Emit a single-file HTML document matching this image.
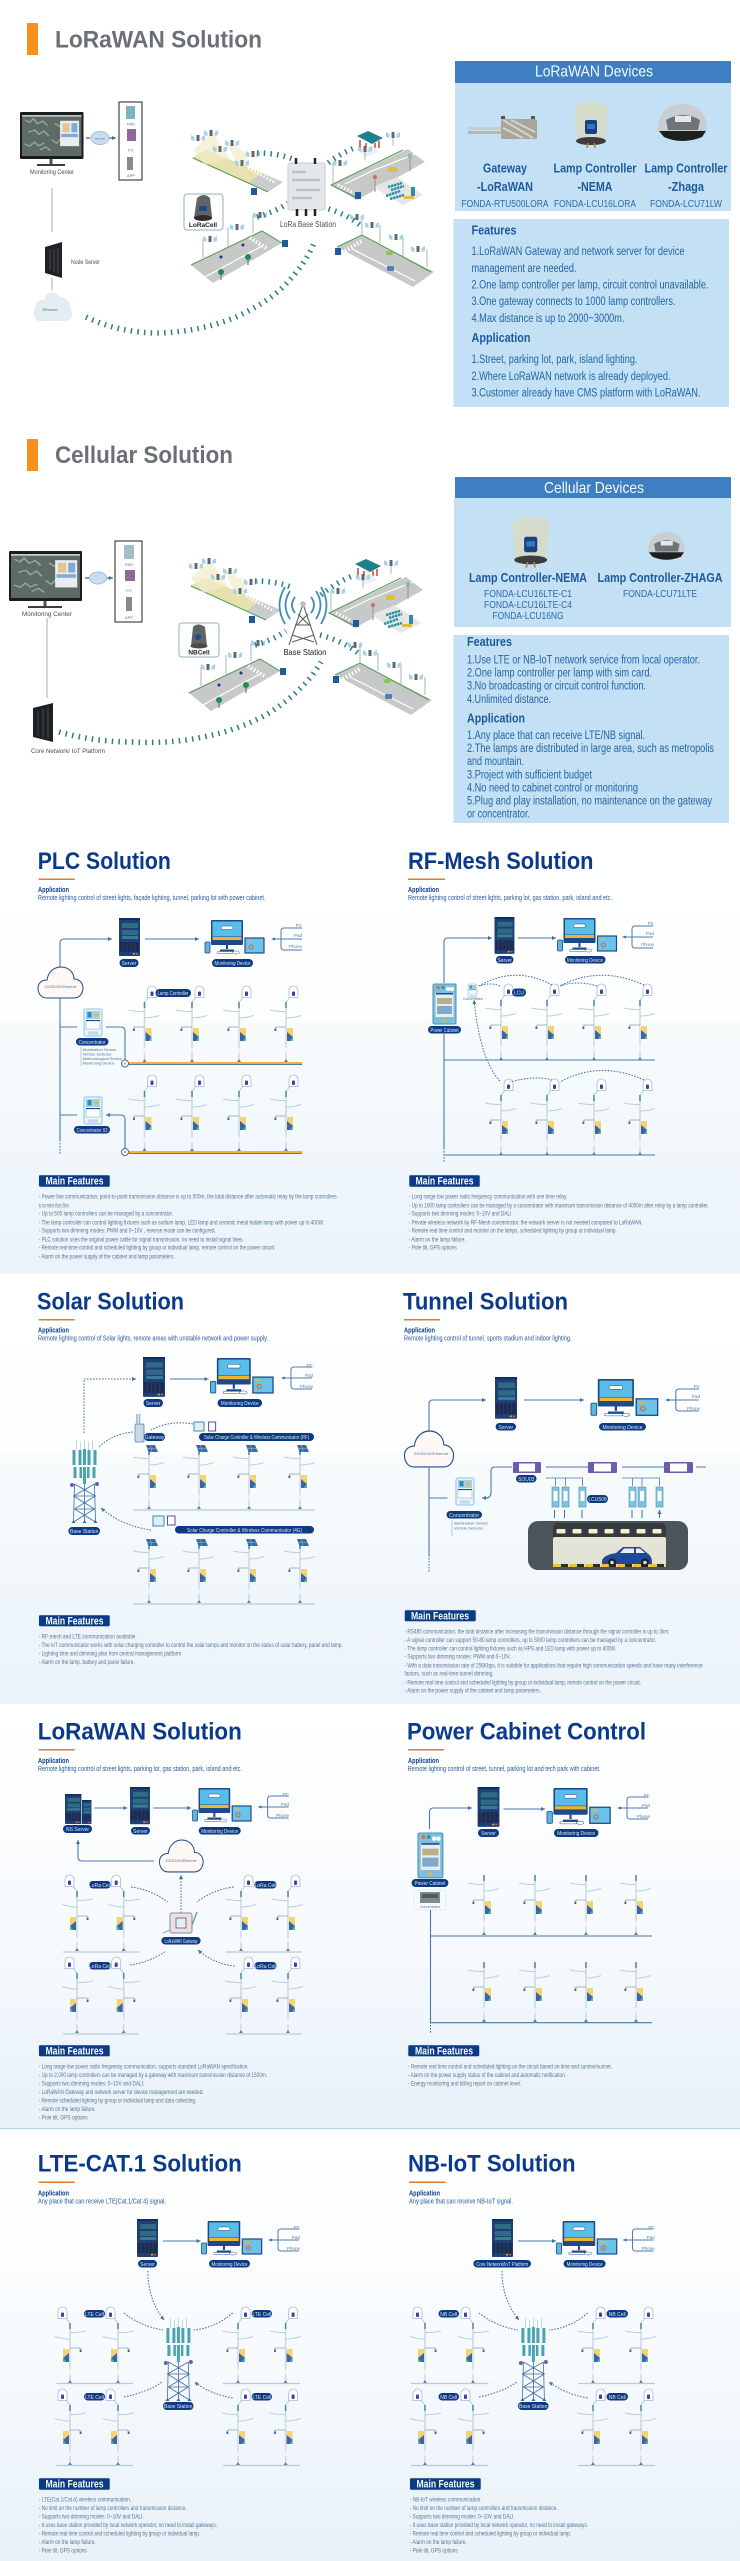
<!DOCTYPE html>
<html lang="en">
<head>
<meta charset="utf-8">
<title>Street lighting solutions</title>
<style>
html,body{margin:0;padding:0;background:#fff}
svg{display:block}
text{font-family:"Liberation Sans",sans-serif}
.h1{font-size:24px;font-weight:700;fill:#6b7076}
.hd{font-size:16px;fill:#f2f8fd}
.dv{font-size:13px;font-weight:700;fill:#1d5a9d}
.md{font-size:10px;fill:#2d6ba8}
.fh{font-size:13px;font-weight:700;fill:#1d5a9d}
.fl{font-size:11.5px;fill:#2465a5}
.sm{font-size:6.5px;fill:#4a4f52}
.t{font-size:24px;font-weight:700;fill:#0a3a8b}
.ap{font-size:7.5px;font-weight:700;fill:#0f3f86}
.su{font-size:7.5px;fill:#2b5a9c}
.mf{font-size:11px;font-weight:700;fill:#f4f9ff}
.l{font-size:6.2px;fill:#5a7898}
.p{font-size:5px;fill:#dce9f6;text-anchor:middle}
.b{font-size:4.5px;fill:#5a7ea6;text-anchor:end}
.s{font-size:4px;fill:#52729a}
.pill{fill:#0d3a82}
.wl{fill:none;stroke:#4a78ad;stroke-width:1.1;stroke-linejoin:round}
.dash{fill:none;stroke:#3f6fa6;stroke-width:1;stroke-dasharray:1.6 1.4}
.tick{fill:none;stroke:#2e7d84;stroke-width:5.500;stroke-dasharray:1.5 5.2}
</style>
</head>
<body>
<svg xmlns="http://www.w3.org/2000/svg" width="740" height="2561" viewBox="0 0 740 2561">
<defs>
<linearGradient id="g1" x1="0" y1="0" x2="0" y2="1">
<stop offset="0" stop-color="#ffffff"/><stop offset=".41" stop-color="#fdfefe"/><stop offset=".43" stop-color="#f7fbfb"/><stop offset=".6" stop-color="#f4f9fc"/><stop offset=".78" stop-color="#eff6fb"/><stop offset="1" stop-color="#ebf2f9"/>
</linearGradient>
<linearGradient id="g2" x1="0" y1="0" x2="0" y2="1">
<stop offset="0" stop-color="#ffffff"/><stop offset=".3" stop-color="#fbfdfe"/><stop offset=".6" stop-color="#f5f9fd"/><stop offset="1" stop-color="#e7f1f8"/>
</linearGradient>
<marker id="a" markerUnits="userSpaceOnUse" markerWidth="6" markerHeight="6" refX="4" refY="2.5" orient="auto"><path d="M0 .5L4 2.5L0 4.5z" fill="#3f6fa6"/></marker>

<g id="pole">
<path d="M0-60V0" stroke="#ccd9e3" stroke-width="1.500"/>
<path d="M0-60V-54" stroke="#4a8aa4" stroke-width="1.500"/>
<path d="M-16-52Q-8-50 0-50.500M0-44Q8-44 15-46.500" fill="none" stroke="#bfcfdb" stroke-width="1.100"/>
<path d="M-10.500-35H0" stroke="#8aa8c2" stroke-width=".8"/>
<rect x="-11.500" y="-34.500" width="1.800" height="3.500" fill="#3a5f96"/><rect x="-11.500" y="-34.500" width="1.800" height="1.300" fill="#e8b45a"/>
<rect x="1" y="-34" width="6" height="13" fill="#f5d36e"/><path d="M1-21V-30L7-25V-21z" fill="#3a66a8"/><path d="M4-21L7-26V-21z" fill="#5fb0a0"/>
<rect x="-1" y="-14" width="2" height="5" fill="#eef3f7"/>
<path d="M-2 0L0-3L2 0z" fill="#4d8aa0"/>
</g>
<g id="dome">
<path d="M3-64.500V-71.500A4.500 4.500 0 0 1 12-71.500V-64.500z" fill="#fff" stroke="#a9bac8" stroke-width=".8"/>
<rect x="6" y="-70.500" width="3" height="4.500" rx="1" fill="#3a44a0"/>
<path d="M3.500-64L0-60" stroke="#9db4c6" stroke-width=".6"/>
</g>
<g id="lamp"><use href="#pole"/><use href="#dome"/></g>
<g id="spole"><use href="#pole"/><path d="M-3-64H6L9-57H-.5z" fill="#3a6ca4"/><path d="M1.500-64L3-57M-1.500-60.500H8" stroke="#b4d0e6" stroke-width=".4"/></g>

<g id="srv">
<rect width="21" height="38" rx="1" fill="#1e3f78"/>
<rect x="0" y="0" width="21" height="2" fill="#0d2e66"/>
<rect x="3" y="5" width="16" height="5" fill="#2f6c84"/><rect x="3" y="12" width="16" height="5" fill="#2f6c84"/><rect x="3" y="18" width="16" height="3" fill="#3b7b92"/>
<rect x="1" y="24" width="19" height="10" fill="#1a2c52"/>
<rect x="14" y="35" width="2" height="1.500" fill="#e8a83c"/><rect x="17" y="35" width="2" height="1.500" fill="#d9534f"/>
<path d="M4 24V34M8 24V34M12 24V34M16 24V34" stroke="#3a4c74" stroke-width=".5"/>
</g>
<g id="mon">
<rect x="6" y="0" width="32" height="25" rx="1" fill="#1e4a8c"/>
<rect x="7.500" y="1.500" width="29" height="15" fill="#58bde8"/>
<rect x="7.500" y="17" width="29" height="3" fill="#f0b52f"/>
<rect x="16" y="6" width="12" height="3.500" rx="1.700" fill="#fff" stroke="#1e4a8c" stroke-width=".5"/>
<path d="M22 25V29M15 30.500H29" stroke="#1e4a8c" stroke-width="2"/>
<rect x="12" y="31.500" width="16" height="2" rx="1" fill="#fff" stroke="#2a5b99" stroke-width=".5"/>
<rect x="40" y="18" width="19" height="15" fill="#6cc3ea" stroke="#1e4a8c" stroke-width="1.200"/>
<rect x="42" y="20.500" width="5" height="1.500" fill="#f0b52f"/><circle cx="46" cy="27" r="2" fill="none" stroke="#d9622f"/>
<rect x="0" y="22" width="5" height="11" rx="1" fill="#5eb7e0" stroke="#1e4a8c" stroke-width=".8"/>
<ellipse cx="31" cy="32.500" rx="3.500" ry="1.500" fill="#fff" stroke="#2a5b99" stroke-width=".5"/>
</g>
<g id="br">
<path d="M0 0H8M29-11H11Q8-11 8-8V8Q8 11 11 11H29M8 0H29" fill="none" stroke="#4d7bae" stroke-width="1"/>
<path d="M-2 0L2-1.500V1.500z" fill="#3f6fa6"/>
</g>
<g id="con">
<rect width="18" height="27" rx="2" fill="#e8f3fa" stroke="#8fc3e2"/>
<rect x="2" y="2" width="14" height="8" fill="#9fd3ef"/>
<rect x="3.500" y="3" width="4" height="5.500" fill="#2f8cb4"/><circle cx="12" cy="6" r="2" fill="#f0b52f"/>
<rect x="2" y="12" width="14" height="8" fill="#fff" stroke="#7ba7c7" stroke-width=".5"/>
<rect x="2" y="11" width="14" height="1" fill="#1d4c94"/>
<rect x="4" y="22.500" width="10" height="3" fill="#bed9ea"/>
</g>
<g id="cab">
<rect width="23" height="40" rx="1.500" fill="#7fbfdc" stroke="#4b91b3"/>
<circle cx="5" cy="3.500" r="1.800" fill="#e5673c"/><circle cx="10" cy="3.500" r="1.800" fill="#2b9f94"/><circle cx="15" cy="5" r="2" fill="#fff"/><circle cx="19" cy="5" r="2" fill="#fff"/>
<rect x="2.500" y="9" width="18" height="24" fill="#e5eef4"/><rect x="3" y="9" width="17" height="1.500" fill="#1d4c94"/>
<rect x="4" y="14" width="15" height="6" fill="#b7b183"/><rect x="4" y="22" width="15" height="8" fill="#7fa9c9"/>
<path d="M11.500 34L14 38H9z" fill="#f0b52f"/>
</g>
<g id="tower">
<g fill="#4aa3b0">
<rect x="-12" y="10" width="3" height="15"/><rect x="-6" y="10" width="3" height="15"/><rect x="-1.500" y="9" width="3" height="16"/><rect x="3" y="10" width="3" height="15"/><rect x="9" y="10" width="3" height="15"/>
<rect x="-11" y="27" width="3" height="11"/><rect x="-5" y="27" width="2.500" height="11"/><rect x="-1.500" y="27" width="3" height="17"/><rect x="2.500" y="27" width="2.500" height="11"/><rect x="8" y="27" width="3" height="11"/>
</g>
<path d="M-8 0V10M-4 2V10M0 0V10M4 2V10M8 0V10" stroke="#7fb6c4" stroke-width=".5"/>
<circle cx="-12.500" cy="45" r="2" fill="#6d5bb0"/><circle cx="12.500" cy="44" r="2" fill="#6d5bb0"/>
<path d="M-10 44L-11 82M10 44L11 82M-10 44L11 56L-10 69L11 82M10 44L-11 56L10 69L-11 82M-10.500 56H10.500M-10.500 69H10.500M0 44V82" fill="none" stroke="#3f6fa6" stroke-width=".8"/>
<path d="M-13 83H-9L-11 80zM-2 83H2L0 80zM9 83H13L11 80z" fill="#35738a"/>
</g>
<g id="cloud">
<path d="M9 31C2 31 0 25 0 21C0 16 4 13 9 13C10 5 16 0 23 0C30 0 36 5 36 12C42 12 45 17 45 21C45 27 41 31 36 31z" fill="#fff8f5" stroke="#1e4a8c" stroke-width="1"/>
</g>
<g id="sl">
<path d="M-7-3L-3.500-1V3L-7 2zM7-3L3.500-1V3L7 2z" fill="#a5d3ec"/>
<rect x="-1.500" y="-3" width="3" height="6" fill="#63676b"/>
</g>
<g id="scene">
<polygon points="192,158 207,150 283,182 268,192" fill="#cbcdcc"/>
<polygon points="192,158 207,150 262,173 248,183" fill="#e6e1ae"/>
<path d="M193 158L268 192" stroke="#4f9a4f"/><path d="M248 168L276 183" stroke="#fff" stroke-width="3" stroke-dasharray="1.500 2"/>
<path d="M193 150L212 133L230 158L205 165zM225 140L250 155L240 170z" fill="#f0ecc8" opacity=".7"/>
<polygon points="331,185 408,149 425,162 357,200" fill="#c7c9c9"/>
<path d="M357 198L331 185L403 150" fill="none" stroke="#4f9a4f"/><path d="M345 184L372 171L415 154" fill="none" stroke="#fff" stroke-width="1.200"/>
<path d="M338 185L352 192" stroke="#fff" stroke-width="3.500" stroke-dasharray="1.500 2"/>
<polygon points="373,187 397,177 423,195 403,205" fill="#e6e7e5"/>
<path d="M388 187L402 183M391 190L404 186" stroke="#2b8fa8" stroke-width="2.500" stroke-dasharray="2.500 .6"/><path d="M386 196L400 191M390 199L404 195" stroke="#2b8fa8" stroke-width="2.500" stroke-dasharray="2.500 .6"/>
<rect x="411" y="187" width="4" height="9" fill="#2f8f9c"/><rect x="404" y="196" width="10" height="3" fill="#e0b94a"/>
<polygon points="357,136 368,131 383,138 372,144" fill="#1f7f8c"/><path d="M360 140V150M366 143V152M375 143V150M379 141V148" stroke="#c4442f" stroke-width="1.500"/>
<polygon points="358,150 373,146 380,152 366,157" fill="#eef0f0"/>
<rect x="388" y="167" width="9" height="5" rx="1" fill="#d8c23f"/>
<circle cx="375" cy="177" r="2" fill="#cf6e5a"/><path d="M375 179V192" stroke="#8a9398"/>
<circle cx="410" cy="156" r="2.500" fill="#8fb8c4"/><path d="M410 158V171" stroke="#8a9398"/>
<polygon points="191,265 262,231 282,243 213,283" fill="#c7c9c9"/>
<path d="M191 265L262 231L282 243" fill="none" stroke="#4f9a4f"/><path d="M205 277L262 246" stroke="#fff" stroke-width="1.200"/>
<path d="M250 238L268 249" stroke="#fff" stroke-width="4" stroke-dasharray="1.500 2"/>
<polygon points="337,247 362,235 434,272 413,287" fill="#c7c9c9"/>
<path d="M337 247L362 235L431 272" fill="none" stroke="#4f9a4f"/><path d="M352 249L415 281" stroke="#fff" stroke-width="1.200"/>
<path d="M345 251L362 241" stroke="#fff" stroke-width="4" stroke-dasharray="1.500 2"/>
<circle cx="221" cy="272" r="3" fill="#1f8a5a"/><path d="M221 275V280" stroke="#6a5b3e"/>
<circle cx="248" cy="257" r="3" fill="#1f8a5a"/><path d="M248 260V265" stroke="#6a5b3e"/>
<circle cx="243" cy="245" r="1.500" fill="#26318a"/><circle cx="221" cy="257" r="1.500" fill="#26318a"/>
<rect x="386" y="251" width="7" height="4" rx="1" fill="#8fc25b"/><rect x="387" y="266" width="7" height="5" rx="1" fill="#4f7fbf"/>
<rect x="251" y="188" width="6" height="7" fill="#1f5a9d"/><rect x="355" y="192" width="6" height="7" fill="#1f5a9d"/><rect x="282" y="240" width="6" height="7" fill="#1f5a9d"/><rect x="335" y="248" width="6" height="7" fill="#1f5a9d"/>
<path d="M333 183V163M393 146V135M365 160V149M380 243V225M403 257V237M427 267V249M362 235V217M203 258V239M228 247V227M253 233V215" fill="none" stroke="#9aa2a6" stroke-width=".8"/>
<use href="#sl" x="198" y="138"/><use href="#sl" x="211" y="133"/><use href="#sl" x="220" y="149"/><use href="#sl" x="232" y="143"/><use href="#sl" x="253" y="154"/><use href="#sl" x="242" y="163"/>
<use href="#sl" x="340" y="163"/><use href="#sl" x="393" y="135"/><use href="#sl" x="365" y="149"/>
<use href="#sl" x="372" y="225"/><use href="#sl" x="396" y="237"/><use href="#sl" x="418" y="249"/><use href="#sl" x="357" y="217"/>
<use href="#sl" x="210" y="239"/><use href="#sl" x="237" y="227"/><use href="#sl" x="260" y="215"/>
<path d="M257 153Q277 153 293 159M323 167Q340 153 357 147M257 217Q275 212 288 203M322 207Q345 213 360 225" class="tick"/>
</g>
<g id="nema">
<path d="M0 8C0 2 8 0 17 0C26 0 34 2 34 8L31 38H3z" fill="#d6dccb"/><ellipse cx="17" cy="39" rx="15" ry="4" fill="#3d3d3d"/>
<rect x="11" y="18" width="12" height="14" rx="2" fill="#1d3f7a"/><rect x="13" y="22" width="8" height="5" fill="#2f78c4"/>
<path d="M14 41L13 46M20 41L21 46" stroke="#b58a2c" stroke-width="1.500"/>
</g>
<g id="zhaga">
<path d="M0 27C0 8 10 0 24 0C39 0 49 8 49 27z" fill="#c8ced2"/>
<path d="M8 16Q25 6 42 16L40 26H10z" fill="#6e7478"/><rect x="17" y="12" width="16" height="6" fill="#e6e8ea"/>
<path d="M1 27H48L44 33Q24 41 6 33z" fill="#1e1e1e"/>
</g>
<g id="mtex">
<rect width="100" height="100" fill="#5d6a66"/>
<path d="M5 12l8 6 6-9 7 12 9-6 8 11M10 42l12-5 6 10 9-8 8 12M4 70l9 6 8-10 7 9 10-7M50 60l8 9 7-10 9 8M30 85l10-7 8 9M55 20l8 8 9-9" stroke="#8fa5a0" stroke-width="3" fill="none"/>
<rect y="0" width="100" height="4" fill="#c6cacd"/>
<rect x="64" y="14" width="32" height="62" fill="#e9edf1"/><rect x="68" y="20" width="12" height="22" fill="#e4c58c"/><rect x="83" y="20" width="10" height="22" fill="#7fa9d9"/><rect x="66" y="46" width="28" height="8" fill="#7fa9d9"/>
</g>
</defs>

<rect width="740" height="2561" fill="#fff"/>
<!-- Section 1 -->
<rect x="27" y="23" width="11" height="32" fill="#f5921e"/>
<text class="h1" x="55" y="47.500" textLength="207" lengthAdjust="spacingAndGlyphs">LoRaWAN Solution</text>
<rect x="455" y="83" width="276" height="128" fill="#c3e0f5"/>
<rect x="455" y="61" width="276" height="22" fill="#3f7fc1"/>
<text class="hd" x="594" y="76.700" text-anchor="middle" textLength="118" lengthAdjust="spacingAndGlyphs">LoRaWAN Devices</text>
<g transform="translate(468,114)">
<rect x="0" y="13" width="34" height="3" fill="#c9cdc9"/><rect x="0" y="17" width="34" height="3" fill="#b4b8b2"/>
<rect x="33" y="5" width="36" height="20" rx="2" fill="#a8a69a"/><path d="M35 6L65 24M43 6L67 18M35 14L55 24" stroke="#d5d4cb" stroke-width="2"/>
<rect x="33" y="2" width="4" height="3" fill="#555"/><rect x="63" y="2" width="4" height="3" fill="#555"/>
</g>
<use href="#nema" transform="translate(574,102)"/>
<use href="#zhaga" transform="translate(658,104)"/>
<text class="dv" x="505" y="172.700" text-anchor="middle" textLength="44" lengthAdjust="spacingAndGlyphs">Gateway</text>
<text class="dv" x="505" y="191" text-anchor="middle" textLength="56" lengthAdjust="spacingAndGlyphs">-LoRaWAN</text>
<text class="md" x="505" y="207" text-anchor="middle" textLength="87" lengthAdjust="spacingAndGlyphs">FONDA-RTU500LORA</text>
<text class="dv" x="595" y="172.700" text-anchor="middle" textLength="83" lengthAdjust="spacingAndGlyphs">Lamp Controller</text>
<text class="dv" x="595" y="191" text-anchor="middle" textLength="35" lengthAdjust="spacingAndGlyphs">-NEMA</text>
<text class="md" x="595" y="207" text-anchor="middle" textLength="82" lengthAdjust="spacingAndGlyphs">FONDA-LCU16LORA</text>
<text class="dv" x="686" y="172.700" text-anchor="middle" textLength="83" lengthAdjust="spacingAndGlyphs">Lamp Controller</text>
<text class="dv" x="686" y="191" text-anchor="middle" textLength="36" lengthAdjust="spacingAndGlyphs">-Zhaga</text>
<text class="md" x="686" y="207" text-anchor="middle" textLength="72" lengthAdjust="spacingAndGlyphs">FONDA-LCU71LW</text>
<rect x="453.500" y="219" width="275.500" height="188" fill="#c3e0f5"/>
<text class="fh" x="471.500" y="234.700" textLength="45" lengthAdjust="spacingAndGlyphs">Features</text>
<text class="fl" x="471.500" y="255" textLength="213" lengthAdjust="spacingAndGlyphs">1.LoRaWAN Gateway and network server for device</text>
<text class="fl" x="471.500" y="272" textLength="105" lengthAdjust="spacingAndGlyphs">management are needed.</text>
<text class="fl" x="471.500" y="288.700" textLength="237" lengthAdjust="spacingAndGlyphs">2.One lamp controller per lamp, circuit control unavailable.</text>
<text class="fl" x="471.500" y="305" textLength="204" lengthAdjust="spacingAndGlyphs">3.One gateway connects to 1000 lamp controllers.</text>
<text class="fl" x="471.500" y="322" textLength="153" lengthAdjust="spacingAndGlyphs">4.Max distance is up to 2000~3000m.</text>
<text class="fh" x="471.500" y="342" textLength="59" lengthAdjust="spacingAndGlyphs">Application</text>
<text class="fl" x="471.500" y="363" textLength="166" lengthAdjust="spacingAndGlyphs">1.Street, parking lot, park, island lighting.</text>
<text class="fl" x="471.500" y="380" textLength="199" lengthAdjust="spacingAndGlyphs">2.Where LoRaWAN network is already deployed.</text>
<text class="fl" x="471.500" y="396.700" textLength="229" lengthAdjust="spacingAndGlyphs">3.Customer already have CMS platform with LoRaWAN.</text>
<!-- S1 left -->
<rect x="20" y="112" width="63.500" height="47" rx="1" fill="#1a1d20"/>
<use href="#mtex" transform="translate(22,115) scale(.595,.41)"/>
<path d="M51 159V164" stroke="#555" stroke-width="3"/><path d="M37 165H65" stroke="#3a3d40" stroke-width="2"/>
<text class="sm" x="52" y="174" text-anchor="middle" textLength="44" lengthAdjust="spacingAndGlyphs">Monitoring Center</text>
<rect x="119" y="102" width="23" height="78" fill="#fff" stroke="#222" stroke-width="1"/>
<rect x="126" y="106" width="9" height="13" fill="#7fb3c4"/><rect x="127" y="129" width="9" height="12" fill="#8d6a9b"/><rect x="127" y="157" width="6" height="13" fill="#8a8a8a"/>
<text class="s" x="131" y="125.500" text-anchor="middle">PAD</text><text class="s" x="131" y="151.500" text-anchor="middle">PC</text><text class="s" x="131" y="177" text-anchor="middle">APP</text>
<path d="M86 138H90M108 138H116" stroke="#333" marker-end="url(#a)"/>
<ellipse cx="100" cy="138" rx="9" ry="6.500" fill="#c8def0" stroke="#9fc0dc"/>
<text class="s" x="100" y="139.500" text-anchor="middle" style="font-size:3px">Internet</text>
<path d="M52 188V232" stroke="#a9adaf"/>
<path d="M45 247L62 242V278L45 273z" fill="#202326"/><path d="M50 250V270M54 249V272M58 248V273" stroke="#46494d" stroke-width="1"/>
<text class="sm" x="71" y="264" textLength="29" lengthAdjust="spacingAndGlyphs">Node Server</text>
<path d="M52 278V290" stroke="#a9adaf"/>
<path d="M40 321C33 321 32 311 36 308C34 302 40 299 44 300C46 291 55 290 60 297C66 297 71 302 70 308C74 312 72 321 66 321z" fill="#e4edf0"/>
<text class="s" x="50" y="311" text-anchor="middle">Ethernet</text>
<path d="M86 317Q120 333 158 333Q200 332 236 317Q268 302 283 287Q305 265 314 243" class="tick"/>
<use href="#scene"/>
<rect x="288" y="163" width="37" height="47" rx="2" fill="#e3e7ea" stroke="#c9cfd4"/>
<path d="M292 172H306M292 180H320M296 190H320M292 198H312" stroke="#b9c2c9" stroke-width="2.500"/>
<path d="M296 158V164M315 158V164M297 209V216M306 209V216M315 209V216" stroke="#222" stroke-width="2.500"/>
<text class="sm" x="308" y="227" text-anchor="middle" textLength="56" lengthAdjust="spacingAndGlyphs" style="font-size:8px">LoRa Base Station</text>
<rect x="184" y="194" width="39" height="36" rx="3" fill="#fff" stroke="#8fb3ba"/>
<path d="M194 218L197 198Q204 192 210 198L212 218z" fill="#5f6366"/><ellipse cx="203" cy="218" rx="9" ry="3" fill="#2d2d2d"/><rect x="199" y="206" width="8" height="5" fill="#1f4a8c"/>
<text x="203" y="227" text-anchor="middle" style="font-size:6.500px;font-weight:700;fill:#222">LoRaCell</text>

<!-- Section 2 -->
<rect x="27" y="439" width="11" height="32" fill="#f5921e"/>
<text class="h1" x="55" y="463" textLength="178" lengthAdjust="spacingAndGlyphs">Cellular Solution</text>
<rect x="454" y="498" width="277" height="129" fill="#c3e0f5"/>
<rect x="455" y="477" width="276" height="21" fill="#3f7fc1"/>
<text class="hd" x="594" y="493" text-anchor="middle" textLength="100" lengthAdjust="spacingAndGlyphs">Cellular Devices</text>
<use href="#nema" transform="translate(512,517) scale(1.100)"/>
<use href="#zhaga" transform="translate(648,532) scale(.750)"/>
<text class="dv" x="528" y="582" text-anchor="middle" textLength="118" lengthAdjust="spacingAndGlyphs">Lamp Controller-NEMA</text>
<text class="dv" x="660" y="582" text-anchor="middle" textLength="125" lengthAdjust="spacingAndGlyphs">Lamp Controller-ZHAGA</text>
<text class="md" x="528" y="597" text-anchor="middle" textLength="88" lengthAdjust="spacingAndGlyphs">FONDA-LCU16LTE-C1</text>
<text class="md" x="528" y="608" text-anchor="middle" textLength="88" lengthAdjust="spacingAndGlyphs">FONDA-LCU16LTE-C4</text>
<text class="md" x="528" y="619" text-anchor="middle" textLength="71" lengthAdjust="spacingAndGlyphs">FONDA-LCU16NG</text>
<text class="md" x="660" y="597" text-anchor="middle" textLength="74" lengthAdjust="spacingAndGlyphs">FONDA-LCU71LTE</text>
<rect x="453.500" y="635" width="275.500" height="188" fill="#c3e0f5"/>
<text class="fh" x="467" y="646" textLength="45" lengthAdjust="spacingAndGlyphs">Features</text>
<text class="fl" x="467" y="663.700" textLength="233" lengthAdjust="spacingAndGlyphs">1.Use LTE or NB-IoT network service from local operator.</text>
<text class="fl" x="467" y="676.700" textLength="185" lengthAdjust="spacingAndGlyphs">2.One lamp controller per lamp with sim card.</text>
<text class="fl" x="467" y="689.700" textLength="179" lengthAdjust="spacingAndGlyphs">3.No broadcasting or circuit control function.</text>
<text class="fl" x="467" y="703" textLength="84" lengthAdjust="spacingAndGlyphs">4.Unlimited distance.</text>
<text class="fh" x="467" y="722.300" textLength="58" lengthAdjust="spacingAndGlyphs">Application</text>
<text class="fl" x="467" y="739" textLength="178" lengthAdjust="spacingAndGlyphs">1.Any place that can receive LTE/NB signal.</text>
<text class="fl" x="467" y="752" textLength="247" lengthAdjust="spacingAndGlyphs">2.The lamps are distributed in large area, such as metropolis</text>
<text class="fl" x="467" y="765" textLength="57" lengthAdjust="spacingAndGlyphs">and mountain.</text>
<text class="fl" x="467" y="778.300" textLength="125" lengthAdjust="spacingAndGlyphs">3.Project with sufficient budget</text>
<text class="fl" x="467" y="791.300" textLength="171" lengthAdjust="spacingAndGlyphs">4.No need to cabinet control or monitoring</text>
<text class="fl" x="467" y="804.700" textLength="245" lengthAdjust="spacingAndGlyphs">5.Plug and play installation, no maintenance on the gateway</text>
<text class="fl" x="467" y="817.700" textLength="63" lengthAdjust="spacingAndGlyphs">or concentrator.</text>
<rect x="9" y="551" width="73" height="50" rx="1" fill="#1a1d20"/>
<use href="#mtex" transform="translate(11,554) scale(.690,.440)"/>
<path d="M45 601V606" stroke="#555" stroke-width="3"/><path d="M28 607H62" stroke="#3a3d40" stroke-width="2"/>
<text class="sm" x="47" y="616" text-anchor="middle" textLength="50" lengthAdjust="spacingAndGlyphs">Monitoring Center</text>
<rect x="115" y="541" width="27" height="81" fill="#fff" stroke="#222" stroke-width="1"/>
<rect x="124" y="545" width="10" height="14" fill="#9fc0c8"/><rect x="125" y="570" width="10" height="11" fill="#8d6a9b"/><rect x="126" y="597" width="6" height="14" fill="#8a8a8a"/>
<text class="s" x="129" y="566" text-anchor="middle">PAD</text><text class="s" x="129" y="592" text-anchor="middle">PC</text><text class="s" x="129" y="619" text-anchor="middle">APP</text>
<path d="M85 578H90M106 578H113" stroke="#333" marker-end="url(#a)"/>
<ellipse cx="98" cy="578" rx="8.500" ry="6" fill="#c8def0" stroke="#9fc0dc"/>
<path d="M47 618V698" stroke="#a9adaf"/>
<path d="M33 708L53 703V742L33 737z" fill="#1e2124"/><path d="M38 711V735M43 709V738M48 708V739" stroke="#46494d"/>
<text class="sm" x="31" y="753" textLength="74" lengthAdjust="spacingAndGlyphs">Core Network/ IoT Platform</text>
<path d="M59 732Q95 742 132 742Q170 744 203 737Q240 730 269 713Q305 690 321 662" class="tick"/>
<use href="#scene" transform="translate(-2,428)"/>
<g fill="none" stroke="#3f8cb8" stroke-width="1.800"><path d="M295 597Q289 605 295 613M311 597Q317 605 311 613"/><path d="M290 591Q281 605 290 619M316 591Q325 605 316 619"/><path d="M285 587Q274 605 285 624M321 587Q332 605 321 624"/></g>
<path d="M303 604L289 645M303 604L317 645M295 625H311M292 635L314 642M314 635L292 642M298 614L309 625M308 614L297 625" stroke="#5a5f63" stroke-width="1.100" fill="none"/>
<circle cx="303" cy="604" r="2.800" fill="#b9bec2"/>
<text class="sm" x="305" y="655" text-anchor="middle" textLength="43" lengthAdjust="spacingAndGlyphs" style="font-size:8px;fill:#222">Base Station</text>
<rect x="179" y="623" width="40" height="34" rx="3" fill="#fff" stroke="#8fb3ba"/>
<path d="M191 646L193 627Q198 622 205 627L207 646z" fill="#5f6366"/><circle cx="198" cy="637" r="3" fill="#1f4a8c"/><ellipse cx="199" cy="646" rx="8.500" ry="2.500" fill="#4a4a4a"/>
<text x="199" y="654.500" text-anchor="middle" style="font-size:6.500px;font-weight:700;fill:#222">NBCell</text>

<!-- Row backgrounds -->
<rect x="0" y="840" width="740" height="434" fill="url(#g1)"/>
<rect x="0" y="1275" width="740" height="429" fill="url(#g1)"/>
<rect x="0" y="1705" width="740" height="423" fill="url(#g2)"/>
<rect x="0" y="2128" width="740" height="1" fill="#bcd3e3"/>
<rect x="0" y="2130" width="740" height="431" fill="url(#g2)"/>

<!-- PLC -->
<text class="t" x="37.800" y="869" textLength="133" lengthAdjust="spacingAndGlyphs">PLC Solution</text>
<rect x="38.700" y="878.500" width="36" height="1.500" fill="#e07b2c"/>
<text class="ap" x="38" y="892" textLength="31" lengthAdjust="spacingAndGlyphs">Application</text>
<text class="su" x="38" y="900" textLength="227.500" lengthAdjust="spacingAndGlyphs">Remote lighting control of street lights, façade lighting, tunnel, parking lot with power cabinet.</text>
<use href="#srv" x="119" y="918"/>
<rect x="119.500" y="959" width="19" height="8" rx="4" class="pill"/><text class="p" x="129" y="965">Server</text>
<path d="M145 939H199" class="wl" marker-end="url(#a)"/>
<use href="#mon" x="205" y="920"/>
<rect x="212" y="959" width="41" height="8" rx="4" class="pill"/><text class="p" x="232.500" y="965" textLength="36" lengthAdjust="spacingAndGlyphs">Monitoring Device</text>
<use href="#br" x="273" y="939"/>
<text class="b" x="302" y="927">PC</text><text class="b" x="302" y="937">Pad</text><text class="b" x="302" y="948">Phone</text>
<path d="M60 967V943Q60 939 64 939H112" class="wl" marker-end="url(#a)"/>
<use href="#cloud" x="38" y="967"/>
<text class="s" x="60.500" y="988" text-anchor="middle" textLength="32" lengthAdjust="spacingAndGlyphs">2G/3G/4G/Ethernet</text>
<path d="M60 998V1140" class="wl"/><path d="M60 1140V1155" class="dash"/>
<path d="M60 1027H77M60 1115H77" class="wl"/>
<use href="#con" x="84" y="1009"/>
<rect x="76" y="1038" width="32.500" height="7.500" rx="3.700" class="pill"/><text class="p" x="92" y="1044" textLength="27" lengthAdjust="spacingAndGlyphs">Concentrator</text>
<path d="M81 1047V1066" stroke="#7fa0bb" stroke-width=".5"/>
<text class="s" x="82.600" y="1051">Illumination Sensor</text><text class="s" x="82.600" y="1055.500">Vehicle Detector</text><text class="s" x="82.600" y="1060">Meteorological Sensor</text><text class="s" x="82.600" y="1064.500">Monitoring Device</text>
<use href="#con" x="84" y="1097"/>
<rect x="74" y="1126" width="36" height="7.500" rx="3.700" class="pill"/><text class="p" x="92" y="1132" textLength="31" lengthAdjust="spacingAndGlyphs">Concentrator 03</text>
<path d="M125 1060V1031Q125 1027 121 1027H106M125 1148V1119Q125 1115 121 1115H106" class="wl" marker-end="url(#a)"/>
<circle cx="125" cy="1063.500" r="3.500" fill="#fff" stroke="#3f6fa6"/><circle cx="125" cy="1152" r="3.500" fill="#fff" stroke="#3f6fa6"/>
<circle cx="125" cy="1063.500" r="1.200" fill="#f0b52f"/><circle cx="125" cy="1152" r="1.200" fill="#f0b52f"/>
<rect x="129" y="1062" width="173" height="2.500" fill="#f0b52f"/><rect x="129" y="1064" width="173" height=".8" fill="#2a5b99"/>
<rect x="129" y="1151" width="173" height="2.500" fill="#f0b52f"/><rect x="129" y="1153" width="173" height=".8" fill="#2a5b99"/>
<use href="#lamp" x="144.500" y="1062"/><use href="#lamp" x="192" y="1062"/><use href="#lamp" x="239" y="1062"/><use href="#lamp" x="286" y="1062"/>
<use href="#lamp" x="144.500" y="1151"/><use href="#lamp" x="192" y="1151"/><use href="#lamp" x="239" y="1151"/><use href="#lamp" x="286" y="1151"/>
<rect x="155.500" y="989" width="35.500" height="8" rx="4" class="pill"/><text class="p" x="173" y="995" textLength="31" lengthAdjust="spacingAndGlyphs">Lamp Controller</text>
<rect x="38.700" y="1175" width="71.300" height="12" rx="1.500" fill="#0d3a85" stroke="#d5e4f0" stroke-width=".6"/>
<text class="mf" x="45.500" y="1184.500" textLength="58" lengthAdjust="spacingAndGlyphs">Main Features</text>
<text class="l" x="38.700" y="1198.700" textLength="298" lengthAdjust="spacingAndGlyphs">- Power line communication, point-to-point transmission distance is up to 500m, the total distance after automatic relay by the lamp controllers</text>
<text class="l" x="38.700" y="1207.300" textLength="31" lengthAdjust="spacingAndGlyphs">is no more than 3km.</text>
<text class="l" x="38.700" y="1215.700" textLength="134.500" lengthAdjust="spacingAndGlyphs">- Up to 500 lamp controllers can be managed by a concentrator.</text>
<text class="l" x="38.700" y="1224.300" textLength="285.500" lengthAdjust="spacingAndGlyphs">- The lamp controller can control lighting fixtures such as sodium lamp, LED lamp and ceramic metal halide lamp with power up to 400W.</text>
<text class="l" x="38.700" y="1232.700" textLength="177" lengthAdjust="spacingAndGlyphs">- Supports two dimming modes: PWM and 0~10V , reverse mode can be configured.</text>
<text class="l" x="38.700" y="1241.300" textLength="205" lengthAdjust="spacingAndGlyphs">- PLC solution uses the original power cable for signal transmission, no need to install signal lines.</text>
<text class="l" x="38.700" y="1249.700" textLength="236.500" lengthAdjust="spacingAndGlyphs">- Remote real-time control and scheduled lighting by group or individual lamp, remote control on the power circuit.</text>
<text class="l" x="38.700" y="1258.300" textLength="136" lengthAdjust="spacingAndGlyphs">- Alarm on the power supply of the cabinet and lamp parameters.</text>

<!-- RF-Mesh -->
<text class="t" x="408" y="869" textLength="185.500" lengthAdjust="spacingAndGlyphs">RF-Mesh Solution</text>
<rect x="408" y="878.500" width="37" height="1.500" fill="#e07b2c"/>
<text class="ap" x="408" y="892" textLength="31" lengthAdjust="spacingAndGlyphs">Application</text>
<text class="su" x="408" y="900" textLength="204" lengthAdjust="spacingAndGlyphs">Remote lighting control of street lights, parking lot, gas station, park, island and etc.</text>
<use href="#srv" transform="translate(494.500,917) scale(.950,.970)"/>
<rect x="496" y="956" width="17.500" height="7.500" rx="3.700" class="pill"/><text class="p" x="504.700" y="962">Server</text>
<path d="M518 938H556" class="wl" marker-end="url(#a)"/>
<use href="#mon" x="557.500" y="918"/>
<rect x="565" y="956" width="40.500" height="7.500" rx="3.700" class="pill"/><text class="p" x="585" y="962" textLength="36" lengthAdjust="spacingAndGlyphs">Monitoring Device</text>
<use href="#br" x="624" y="937"/>
<text class="b" x="654" y="925">PC</text><text class="b" x="654" y="935">Pad</text><text class="b" x="654" y="946">Phone</text>
<path d="M444 983V942Q444 938 448 938H492" class="wl" marker-end="url(#a)"/>
<use href="#cab" x="433" y="984"/>
<rect x="428" y="1026" width="33" height="7.500" rx="3.700" class="pill"/><text class="p" x="444.500" y="1032" textLength="28" lengthAdjust="spacingAndGlyphs">Power Cabinet</text>
<use href="#con" transform="translate(468,984) scale(.500)"/>
<text class="s" x="473" y="1000" text-anchor="middle" style="font-size:3.500px">Concentrator</text>
<path d="M444 1034V1148" class="wl"/><path d="M444 1148V1163" class="dash"/>
<path d="M444 1060H655M444 1155H655" class="wl"/>
<use href="#lamp" x="501" y="1060"/><use href="#lamp" x="547" y="1060"/><use href="#lamp" x="594" y="1060"/><use href="#lamp" x="640" y="1060"/>
<use href="#lamp" x="501" y="1155"/><use href="#lamp" x="547" y="1155"/><use href="#lamp" x="594" y="1155"/><use href="#lamp" x="640" y="1155"/>
<rect x="512" y="988.500" width="14" height="8" rx="4" class="pill"/><text class="p" x="519" y="994.500">LCU</text>
<path d="M552 985Q515 965 479 986M644 985Q600 965 560 986M597 986Q578 980 560 986M500 986Q490 982 479 986M552 1080Q535 1075 510 1082M644 1080Q600 1060 560 1082M500 1081Q480 1060 474 1000" class="dash" marker-end="url(#a)"/>
<rect x="409" y="1175" width="71" height="12" rx="1.500" fill="#0d3a85" stroke="#d5e4f0" stroke-width=".6"/>
<text class="mf" x="415.500" y="1184.500" textLength="58" lengthAdjust="spacingAndGlyphs">Main Features</text>
<text class="l" x="408.700" y="1198.700" textLength="158.600" lengthAdjust="spacingAndGlyphs">- Long range low power radio frequency communication with one time relay.</text>
<text class="l" x="408.700" y="1207.300" textLength="300" lengthAdjust="spacingAndGlyphs">- Up to 1000 lamp controllers can be managed by a concentrator with maximum transmission distance of 4000m after relay by a lamp controller.</text>
<text class="l" x="408.700" y="1215.700" textLength="104" lengthAdjust="spacingAndGlyphs">- Supports two dimming modes: 0~10V and DALI.</text>
<text class="l" x="408.700" y="1224.300" textLength="234" lengthAdjust="spacingAndGlyphs">- Private wireless network by RF-Mesh concentrator, the network server is not needed compared to LoRaWAN.</text>
<text class="l" x="408.700" y="1232.700" textLength="208" lengthAdjust="spacingAndGlyphs">- Remote real time control and monitor on the lamps, scheduled lighting by group or individual lamp.</text>
<text class="l" x="408.700" y="1241.300" textLength="57" lengthAdjust="spacingAndGlyphs">- Alarm on the lamp failure.</text>
<text class="l" x="408.700" y="1249.700" textLength="48" lengthAdjust="spacingAndGlyphs">- Pole tilt, GPS options</text>

<!-- Solar -->
<text class="t" x="37" y="1309.300" textLength="147" lengthAdjust="spacingAndGlyphs">Solar Solution</text>
<rect x="38.700" y="1319" width="36" height="1.500" fill="#e07b2c"/>
<text class="ap" x="38" y="1332.700" textLength="31" lengthAdjust="spacingAndGlyphs">Application</text>
<text class="su" x="38" y="1340.700" textLength="230" lengthAdjust="spacingAndGlyphs">Remote lighting control of Solar lights, remote areas with unstable network and power supply.</text>
<use href="#srv" transform="translate(143,1357) scale(1.050,1.050)"/>
<rect x="143.500" y="1399" width="19.500" height="8" rx="4" class="pill"/><text class="p" x="153.200" y="1405">Server</text>
<path d="M170 1379H208.600" class="wl" marker-end="url(#a)"/>
<use href="#mon" transform="translate(210.500,1358) scale(1.060,1.060)"/>
<rect x="217.600" y="1399" width="44.400" height="8" rx="4" class="pill"/><text class="p" x="239.800" y="1405" textLength="38" lengthAdjust="spacingAndGlyphs">Monitoring Device</text>
<use href="#br" x="283" y="1378"/>
<text class="b" x="313" y="1367">PC</text><text class="b" x="313" y="1377">Pad</text><text class="b" x="313" y="1388">Phone</text>
<path d="M84 1433V1379H136" class="dash" marker-end="url(#a)" stroke-dasharray="2.500 1.500"/>
<use href="#tower" x="84.500" y="1440"/>
<rect x="68.400" y="1527" width="31.600" height="8" rx="4" class="pill"/><text class="p" x="84.200" y="1533">Base Station</text>
<rect x="135" y="1424" width="9" height="18" rx="1" fill="#cbd8e2" stroke="#4d7bae" stroke-width=".7"/><path d="M137 1414V1424M139.500 1414V1424" stroke="#8fb3c8" stroke-width="1.500"/>
<rect x="144" y="1433" width="21" height="8" rx="4" class="pill"/><text class="p" x="154.500" y="1439">Gateway</text>
<rect x="194" y="1422" width="10" height="9" fill="#dfeef6" stroke="#3f8ca8"/><rect x="208.600" y="1422" width="7" height="9" fill="#fff" stroke="#5b4fa0"/>
<rect x="199" y="1433" width="115" height="8" rx="4" class="pill"/><text class="p" x="256.500" y="1439" textLength="105" lengthAdjust="spacingAndGlyphs">Solar Charge Controller &amp; Wireless Communicator (RF)</text>
<rect x="153" y="1516" width="11" height="10" fill="#dfeef6" stroke="#3f8ca8"/><rect x="167.500" y="1516" width="7.500" height="9" fill="#fff" stroke="#5b4fa0"/>
<rect x="175" y="1526" width="139" height="7.500" rx="3.700" class="pill"/><text class="p" x="244.500" y="1532" textLength="115" lengthAdjust="spacingAndGlyphs">Solar Charge Controller &amp; Wireless Communicator (4G)</text>
<path d="M193 1424Q170 1420 151 1430M133 1432Q112 1434 99 1447M151 1530Q122 1526 101 1508" class="dash" marker-end="url(#a)"/>
<path d="M133 1510H315M133 1604H315" stroke="#b9cbd9" stroke-width="1.200"/>
<use href="#spole" x="149" y="1509"/><use href="#spole" x="199" y="1509"/><use href="#spole" x="249" y="1509"/><use href="#spole" x="300" y="1509"/>
<use href="#spole" x="149" y="1603"/><use href="#spole" x="199" y="1603"/><use href="#spole" x="249" y="1603"/><use href="#spole" x="300" y="1603"/>
<rect x="38.700" y="1615" width="71.300" height="11.500" rx="1.500" fill="#0d3a85" stroke="#d5e4f0" stroke-width=".6"/>
<text class="mf" x="45.500" y="1624.500" textLength="58" lengthAdjust="spacingAndGlyphs">Main Features</text>
<text class="l" x="38.700" y="1638.300" textLength="98" lengthAdjust="spacingAndGlyphs">- RF-mesh and LTE communication available.</text>
<text class="l" x="38.700" y="1647" textLength="304" lengthAdjust="spacingAndGlyphs">- The IoT communicator works with solar charging controller to control the solar lamps and monitor on the status of solar  battery, panel and lamp.</text>
<text class="l" x="38.700" y="1655.300" textLength="142.500" lengthAdjust="spacingAndGlyphs">- Lighting time and dimming plan from central management platform</text>
<text class="l" x="38.700" y="1664" textLength="96" lengthAdjust="spacingAndGlyphs">- Alarm on the lamp, battery and panel failure.</text>

<!-- Tunnel -->
<text class="t" x="403" y="1309.300" textLength="165" lengthAdjust="spacingAndGlyphs">Tunnel Solution</text>
<rect x="404" y="1319" width="36" height="1.500" fill="#e07b2c"/>
<text class="ap" x="404" y="1332.700" textLength="31" lengthAdjust="spacingAndGlyphs">Application</text>
<text class="su" x="404" y="1340.700" textLength="167.500" lengthAdjust="spacingAndGlyphs">Remote lighting control of tunnel, sports stadium and indoor lighting.</text>
<use href="#srv" transform="translate(495,1377) scale(1.050,1.100)"/>
<rect x="495.600" y="1423" width="20.400" height="7.500" rx="3.700" class="pill"/><text class="p" x="505.800" y="1429">Server</text>
<path d="M524 1400H584" class="wl" marker-end="url(#a)"/>
<use href="#mon" transform="translate(591,1379) scale(1.130,1.100)"/>
<rect x="599" y="1423" width="47" height="7.500" rx="3.700" class="pill"/><text class="p" x="622.500" y="1429" textLength="40" lengthAdjust="spacingAndGlyphs">Monitoring Device</text>
<use href="#br" transform="translate(667,1400) scale(1.100,1)"/>
<text class="b" x="700" y="1388">PC</text><text class="b" x="700" y="1398">Pad</text><text class="b" x="700" y="1410">Phone</text>
<path d="M429 1432V1404Q429 1400 433 1400H486" class="wl" marker-end="url(#a)"/>
<use href="#cloud" transform="translate(404.500,1431) scale(1.090,1.160)"/>
<text class="s" x="431" y="1455" text-anchor="middle" textLength="34" lengthAdjust="spacingAndGlyphs">2G/3G/4G/Ethernet</text>
<path d="M429 1467V1555" class="wl"/><path d="M429 1555V1572" class="dash"/>
<path d="M429 1498H447.500" class="wl"/>
<use href="#con" x="456" y="1478"/>
<rect x="446.500" y="1511" width="35.500" height="7.500" rx="3.700" class="pill"/><text class="p" x="464.200" y="1517" textLength="30" lengthAdjust="spacingAndGlyphs">Concentrator</text>
<path d="M452 1520V1536" stroke="#7fa0bb" stroke-width=".5"/>
<text class="s" x="454" y="1524.300">Illumination Sensor</text><text class="s" x="454" y="1529.300">Vehicle Detector</text>
<path d="M491 1471V1492Q491 1498 486 1498H482" class="wl" marker-end="url(#a)"/>
<path d="M512 1467H495Q491 1467 491 1471" class="wl"/>
<path d="M588 1467H546M664 1467H622M706 1467H696" class="wl" marker-start="url(#a)"/>
<g fill="#6d5bb0"><rect x="513" y="1462" width="28" height="11" rx="1"/><rect x="588" y="1462" width="29" height="11" rx="1"/><rect x="664" y="1462" width="29" height="11" rx="1"/></g>
<g fill="#fff"><rect x="519" y="1463.500" width="16" height="8"/><rect x="594" y="1463.500" width="17" height="8"/><rect x="670" y="1463.500" width="17" height="8"/></g>
<rect x="516" y="1475" width="20.500" height="7.500" rx="3.700" class="pill"/><text class="p" x="526.200" y="1481">SOU03</text>
<path d="M555.500 1486V1478H546M565.500 1486V1478M582.500 1486V1478H555M632.500 1486V1478H622M642 1486V1478M659.500 1486V1478H632" fill="none" stroke="#4d7bae" stroke-width=".8"/>
<g fill="#7fc3e0" stroke="#4d91b5" stroke-width=".6"><rect x="552" y="1487" width="7" height="20"/><rect x="562" y="1487" width="7" height="20"/><rect x="579" y="1487" width="7" height="20"/><rect x="629" y="1487" width="7" height="20"/><rect x="638" y="1487" width="8" height="20"/><rect x="656" y="1487" width="7" height="20"/></g>
<g fill="#fff"><rect x="553.500" y="1491" width="4" height="10"/><rect x="563.500" y="1491" width="4" height="10"/><rect x="580.500" y="1491" width="4" height="10"/><rect x="630.500" y="1491" width="4" height="10"/><rect x="640" y="1491" width="4" height="10"/><rect x="657.500" y="1491" width="4" height="10"/></g>
<rect x="587" y="1495" width="21" height="8" rx="4" class="pill"/><text class="p" x="597.500" y="1501">LCU509</text>
<path d="M554.500 1518V1510M564.500 1518V1510M582 1518V1510M632 1518V1510M642 1518V1510M659.500 1518V1510" class="wl" stroke-width=".8" marker-end="url(#a)"/>
<rect x="528" y="1521" width="160" height="49" rx="10" fill="#4b5459"/>
<rect x="553" y="1523" width="113" height="44" rx="5" fill="#333b40"/>
<rect x="553" y="1537" width="113" height="30" rx="2" fill="#e3e3d6"/>
<g fill="#f7eec9"><rect x="556.500" y="1529" width="9" height="4.500" rx="1"/><rect x="572.500" y="1529" width="9" height="4.500" rx="1"/><rect x="588.500" y="1529" width="9" height="4.500" rx="1"/><rect x="604.500" y="1529" width="9" height="4.500" rx="1"/><rect x="620.500" y="1529" width="9" height="4.500" rx="1"/><rect x="636.500" y="1529" width="9" height="4.500" rx="1"/><rect x="652.500" y="1529" width="9" height="4.500" rx="1"/></g>
<path d="M553 1565.500H666" stroke="#f0c13a" stroke-width="3" stroke-dasharray="9 7"/><path d="M561 1565.500H666" stroke="#2a2d30" stroke-width="3" stroke-dasharray="7 9"/>
<path d="M602 1561Q603 1555 616 1553L623 1547H640L647 1553Q652 1556 652 1562V1564H602z" fill="#1e4a94"/><path d="M624 1548.500L620 1553H634V1548.500zM636 1548.500V1553H645L640 1548.500z" fill="#e8eef4"/>
<circle cx="612" cy="1562.500" r="4" fill="#1b1e22"/><circle cx="612" cy="1562.500" r="1.800" fill="#d7dade"/><circle cx="645" cy="1562.500" r="4" fill="#1b1e22"/><circle cx="645" cy="1562.500" r="1.800" fill="#d7dade"/>
<rect x="404.500" y="1610" width="71.500" height="11.500" rx="1.500" fill="#0d3a85" stroke="#d5e4f0" stroke-width=".6"/>
<text class="mf" x="411" y="1619.500" textLength="58" lengthAdjust="spacingAndGlyphs">Main Features</text>
<text class="l" x="404.500" y="1633.300" textLength="265" lengthAdjust="spacingAndGlyphs">- RS485 communication, the total distance after increasing the transmission distance through the signal controller is up to 3km.</text>
<text class="l" x="404.500" y="1642" textLength="251.600" lengthAdjust="spacingAndGlyphs">- A signal controller can support 50-80 lamp controllers, up to 5000 lamp controllers can be managed by a concentrator.</text>
<text class="l" x="404.500" y="1650.300" textLength="211.500" lengthAdjust="spacingAndGlyphs">- The lamp controller can control lighting fixtures such as HPS and LED lamp with power up to 400W.</text>
<text class="l" x="404.500" y="1658.700" textLength="106" lengthAdjust="spacingAndGlyphs">- Supports two dimming modes: PWM and 0~10V.</text>
<text class="l" x="404.500" y="1667.300" textLength="298" lengthAdjust="spacingAndGlyphs">- With a data transmission rate of 256Kbps, it is suitable for applications that require high communication speeds and have many interference</text>
<text class="l" x="404.500" y="1675.700" textLength="89" lengthAdjust="spacingAndGlyphs">factors, such as real-time tunnel dimming.</text>
<text class="l" x="404.500" y="1684.300" textLength="236.500" lengthAdjust="spacingAndGlyphs">- Remote real time control and scheduled lighting by group or individual lamp, remote control on the power circuit.</text>
<text class="l" x="404.500" y="1692.700" textLength="136.400" lengthAdjust="spacingAndGlyphs">- Alarm on the power supply of the cabinet and lamp parameters.</text>

<!-- LoRaWAN -->
<text class="t" x="37.800" y="1739.300" textLength="204" lengthAdjust="spacingAndGlyphs">LoRaWAN Solution</text>
<rect x="38.700" y="1749" width="36" height="1.500" fill="#e07b2c"/>
<text class="ap" x="38" y="1763" textLength="31" lengthAdjust="spacingAndGlyphs">Application</text>
<text class="su" x="38" y="1771" textLength="204" lengthAdjust="spacingAndGlyphs">Remote lighting control of street lights, parking lot, gas station, park, island and etc.</text>
<use href="#srv" transform="translate(65,1794) scale(.780,.790)"/><use href="#srv" transform="translate(82,1800) scale(.450,.630)"/>
<rect x="63" y="1825" width="29" height="8" rx="4" class="pill"/><text class="p" x="77.500" y="1831">NS Server</text>
<path d="M94.400 1808H127.400" class="wl" marker-end="url(#a)"/>
<use href="#srv" transform="translate(130,1787) scale(.950,.980)"/>
<rect x="131" y="1827" width="19" height="7.500" rx="3.700" class="pill"/><text class="p" x="140.500" y="1833">Server</text>
<path d="M153.400 1808H191" class="wl" marker-end="url(#a)"/>
<use href="#mon" transform="translate(192.600,1788) scale(.990,1)"/>
<rect x="198.700" y="1827" width="42" height="7.500" rx="3.700" class="pill"/><text class="p" x="219.700" y="1833" textLength="37" lengthAdjust="spacingAndGlyphs">Monitoring Device</text>
<use href="#br" x="259.600" y="1807"/>
<text class="b" x="289" y="1796">PC</text><text class="b" x="289" y="1806">Pad</text><text class="b" x="289" y="1817">Phone</text>
<path d="M154 1861H82Q78 1861 78 1857V1840" class="wl" marker-end="url(#a)"/>
<use href="#cloud" transform="translate(159.500,1840) scale(.970,1.030)"/>
<text class="s" x="181" y="1862" text-anchor="middle" textLength="31" lengthAdjust="spacingAndGlyphs">2G/3G/4G/Ethernet</text>
<path d="M181 1913V1875" class="dash" marker-end="url(#a)"/>
<rect x="170" y="1913" width="22" height="20" rx="2" fill="#f3dfd8" stroke="#7d8fa6"/><rect x="176" y="1918" width="10" height="10" fill="#e6eef4" stroke="#5a7ea6"/><path d="M192 1925L197 1912" stroke="#6aa0b8" stroke-width="1.500"/><path d="M170 1930L163 1933" stroke="#8fa6b8"/>
<rect x="161.400" y="1937" width="39.200" height="7.500" rx="3.700" class="pill"/><text class="p" x="181" y="1943" textLength="33" lengthAdjust="spacingAndGlyphs">LoRaWAN Gateway</text>
<path d="M63 1952H139M225.600 1952H302M63 2034H139M225.600 2034H302" stroke="#b9cbd9" stroke-width="1.200"/>
<use href="#lamp" transform="translate(77,1951) scale(-1,1)"/><use href="#lamp" transform="translate(123.700,1951) scale(-1,1)"/><use href="#lamp" x="241" y="1951"/><use href="#lamp" x="288" y="1951"/>
<use href="#lamp" transform="translate(77,2033) scale(-1,1)"/><use href="#lamp" transform="translate(123.700,2033) scale(-1,1)"/><use href="#lamp" x="241" y="2033"/><use href="#lamp" x="288" y="2033"/>
<rect x="89" y="1881" width="22" height="7.500" rx="3.700" class="pill"/><text class="p" x="100" y="1887">LoRa Cell</text>
<rect x="254.400" y="1881" width="22.200" height="7.500" rx="3.700" class="pill"/><text class="p" x="265.500" y="1887">LoRa Cell</text>
<rect x="89" y="1962" width="22" height="7.500" rx="3.700" class="pill"/><text class="p" x="100" y="1968">LoRa Cell</text>
<rect x="254.400" y="1962" width="22.200" height="7.500" rx="3.700" class="pill"/><text class="p" x="265.500" y="1968">LoRa Cell</text>
<path d="M131 1887Q152 1890 167.500 1902M233.600 1887Q212 1890 197 1902M130 1965Q150 1962 166 1951M234.600 1966Q214 1964 198 1950" class="dash" marker-end="url(#a)"/>
<rect x="38.700" y="2045" width="71.300" height="11.500" rx="1.500" fill="#0d3a85" stroke="#d5e4f0" stroke-width=".6"/>
<text class="mf" x="45.500" y="2054.500" textLength="58" lengthAdjust="spacingAndGlyphs">Main Features</text>
<text class="l" x="38.700" y="2068.300" textLength="210" lengthAdjust="spacingAndGlyphs">- Long range low power radio frequency communication, supports standard LoRaWAN specification.</text>
<text class="l" x="38.700" y="2077" textLength="228.500" lengthAdjust="spacingAndGlyphs">- Up to 2,000 lamp controllers can be managed by a gateway with maximum transmission distance of 1500m.</text>
<text class="l" x="38.700" y="2085.300" textLength="105.700" lengthAdjust="spacingAndGlyphs">- Supports two dimming modes:  0~10V and DALI.</text>
<text class="l" x="38.700" y="2094" textLength="165" lengthAdjust="spacingAndGlyphs">- LoRaWAN Gateway and network server for device management are needed.</text>
<text class="l" x="38.700" y="2102.300" textLength="157.600" lengthAdjust="spacingAndGlyphs">- Remote scheduled lighting by group or individual lamp and data collecting.</text>
<text class="l" x="38.700" y="2111" textLength="57" lengthAdjust="spacingAndGlyphs">- Alarm on the lamp failure.</text>
<text class="l" x="38.700" y="2119.300" textLength="49" lengthAdjust="spacingAndGlyphs">- Pole tilt, GPS options</text>

<!-- Power Cabinet -->
<text class="t" x="407" y="1739.300" textLength="239" lengthAdjust="spacingAndGlyphs">Power Cabinet Control</text>
<rect x="408" y="1749" width="36" height="1.500" fill="#e07b2c"/>
<text class="ap" x="408" y="1763" textLength="31" lengthAdjust="spacingAndGlyphs">Application</text>
<text class="su" x="407.500" y="1771" textLength="193" lengthAdjust="spacingAndGlyphs">Remote lighting control of street, tunnel, parking lot and tech park with cabinet.</text>
<use href="#srv" transform="translate(477.600,1787) scale(1.040,1.050)"/>
<rect x="478" y="1829" width="21" height="8" rx="4" class="pill"/><text class="p" x="488.500" y="1835">Server</text>
<path d="M503.600 1809H545" class="wl" marker-end="url(#a)"/>
<use href="#mon" transform="translate(547,1788) scale(1.070,1.070)"/>
<rect x="554" y="1829" width="44.500" height="8" rx="4" class="pill"/><text class="p" x="576.200" y="1835" textLength="38" lengthAdjust="spacingAndGlyphs">Monitoring Device</text>
<use href="#br" x="619" y="1808"/>
<text class="b" x="650" y="1797">PC</text><text class="b" x="650" y="1807">Pad</text><text class="b" x="650" y="1818">Phone</text>
<path d="M429.500 1829V1812Q429.500 1808 433.500 1808H472" class="wl" marker-end="url(#a)"/>
<use href="#cab" transform="translate(418,1833) scale(1.080,1.120)"/>
<rect x="411.600" y="1879" width="36.800" height="8" rx="4" class="pill"/><text class="p" x="430" y="1885" textLength="31" lengthAdjust="spacingAndGlyphs">Power Cabinet</text>
<rect x="414" y="1890" width="32" height="20" fill="#f7fafc" stroke="#cfdde8" stroke-width=".5"/>
<rect x="420" y="1892" width="20" height="11" fill="#7c8a8a"/><rect x="422" y="1894" width="16" height="4" fill="#505c5c"/>
<text class="s" x="430" y="1908" text-anchor="middle" style="font-size:3.500px">Concentrator</text>
<path d="M430.500 1910V2022" class="wl"/><path d="M430.500 2022V2033" class="dash"/>
<path d="M430.500 1936H652M430.500 2022.700H652" class="wl"/>
<use href="#pole" x="484" y="1935"/><use href="#pole" x="535" y="1935"/><use href="#pole" x="586" y="1935"/><use href="#pole" x="636" y="1935"/>
<use href="#pole" x="484" y="2022"/><use href="#pole" x="535" y="2022"/><use href="#pole" x="586" y="2022"/><use href="#pole" x="636" y="2022"/>
<rect x="408" y="2045" width="71.500" height="11.500" rx="1.500" fill="#0d3a85" stroke="#d5e4f0" stroke-width=".6"/>
<text class="mf" x="415" y="2054.500" textLength="58" lengthAdjust="spacingAndGlyphs">Main Features</text>
<text class="l" x="408" y="2068.300" textLength="204" lengthAdjust="spacingAndGlyphs">- Remote real time control and scheduled lighting on the circuit based on time and sunrise/sunset.</text>
<text class="l" x="408" y="2077" textLength="158" lengthAdjust="spacingAndGlyphs">- Alarm on the power supply status of the cabinet and automatic notification.</text>
<text class="l" x="408" y="2085.300" textLength="113" lengthAdjust="spacingAndGlyphs">- Energy monitoring and billing report on cabinet level.</text>

<!-- LTE -->
<text class="t" x="37.800" y="2171.700" textLength="204" lengthAdjust="spacingAndGlyphs">LTE-CAT.1 Solution</text>
<rect x="38.700" y="2181.500" width="36" height="1.500" fill="#e07b2c"/>
<text class="ap" x="38" y="2195.300" textLength="31" lengthAdjust="spacingAndGlyphs">Application</text>
<text class="su" x="38" y="2203.300" textLength="128" lengthAdjust="spacingAndGlyphs">Any place that can receive LTE(Cat.1/Cat.4)  signal.</text>
<use href="#srv" x="137" y="2219"/>
<rect x="138" y="2260" width="19" height="7.500" rx="3.700" class="pill"/><text class="p" x="147.500" y="2266">Server</text>
<path d="M163 2241H200.600" class="wl" marker-end="url(#a)"/>
<use href="#mon" transform="translate(201.500,2221) scale(1.020,1)"/>
<rect x="209" y="2260" width="41" height="7.500" rx="3.700" class="pill"/><text class="p" x="229.500" y="2266" textLength="36" lengthAdjust="spacingAndGlyphs">Monitoring Device</text>
<use href="#br" x="270" y="2240"/>
<text class="b" x="300" y="2229">PC</text><text class="b" x="300" y="2239">Pad</text><text class="b" x="300" y="2250">Phone</text>
<path d="M148 2271Q148 2300 164 2320" class="dash" marker-end="url(#a)"/>
<use href="#tower" x="178.400" y="2318"/>
<rect x="163" y="2402" width="30.500" height="8" rx="4" class="pill"/><text class="p" x="178.200" y="2408">Base Station</text>
<path d="M56.600 2383.500H133M223 2383.500H300M56.600 2465.500H133M223 2465.500H300" stroke="#b9cbd9" stroke-width="1.200"/>
<use href="#lamp" transform="translate(70,2383) scale(-1,1)"/><use href="#lamp" transform="translate(118,2383) scale(-1,1)"/><use href="#lamp" x="238" y="2383"/><use href="#lamp" x="285.600" y="2383"/>
<use href="#lamp" transform="translate(70,2465) scale(-1,1)"/><use href="#lamp" transform="translate(118,2465) scale(-1,1)"/><use href="#lamp" x="238" y="2465"/><use href="#lamp" x="285.600" y="2465"/>
<rect x="84" y="2310" width="21" height="7.500" rx="3.700" class="pill"/><text class="p" x="94.500" y="2316">LTE Cell</text>
<rect x="251.600" y="2310" width="20.400" height="7.500" rx="3.700" class="pill"/><text class="p" x="261.800" y="2316">LTE Cell</text>
<rect x="84" y="2393" width="21" height="7.500" rx="3.700" class="pill"/><text class="p" x="94.500" y="2399">LTE Cell</text>
<rect x="251.600" y="2393" width="20.400" height="7.500" rx="3.700" class="pill"/><text class="p" x="261.800" y="2399">LTE Cell</text>
<path d="M124 2313Q140 2326 163 2330M232.700 2313Q215 2328 193.500 2330M124 2397Q148 2392 162 2382M232.700 2398Q210 2394 194.500 2382" class="dash" marker-end="url(#a)"/>
<rect x="38.700" y="2478" width="71.300" height="12" rx="1.500" fill="#0d3a85" stroke="#d5e4f0" stroke-width=".6"/>
<text class="mf" x="45.500" y="2487.500" textLength="58" lengthAdjust="spacingAndGlyphs">Main Features</text>
<text class="l" x="38.700" y="2501.300" textLength="92.500" lengthAdjust="spacingAndGlyphs">- LTE(Cat.1/Cat.4) wireless communication.</text>
<text class="l" x="38.700" y="2510" textLength="148" lengthAdjust="spacingAndGlyphs">- No limit on the number of lamp controllers and transmission distance.</text>
<text class="l" x="38.700" y="2518.300" textLength="105" lengthAdjust="spacingAndGlyphs">- Supports two dimming modes: 0~10V and DALI.</text>
<text class="l" x="38.700" y="2527" textLength="178.400" lengthAdjust="spacingAndGlyphs">- It uses base station provided by local network operator, no need to install gateways.</text>
<text class="l" x="38.700" y="2535.300" textLength="161.400" lengthAdjust="spacingAndGlyphs">- Remote real time control and scheduled lighting by group or individual lamp.</text>
<text class="l" x="38.700" y="2544" textLength="57" lengthAdjust="spacingAndGlyphs">- Alarm on the lamp failure.</text>
<text class="l" x="38.700" y="2552.300" textLength="48" lengthAdjust="spacingAndGlyphs">- Pole tilt, GPS options</text>

<!-- NB-IoT -->
<text class="t" x="408" y="2171.700" textLength="167.500" lengthAdjust="spacingAndGlyphs">NB-IoT Solution</text>
<rect x="409" y="2181.500" width="36.600" height="1.500" fill="#e07b2c"/>
<text class="ap" x="409" y="2195.300" textLength="31" lengthAdjust="spacingAndGlyphs">Application</text>
<text class="su" x="409" y="2203.300" textLength="104" lengthAdjust="spacingAndGlyphs">Any place that can receive NB-IoT signal.</text>
<use href="#srv" x="492" y="2219"/>
<rect x="473.400" y="2260" width="57.600" height="7.500" rx="3.700" class="pill"/><text class="p" x="502.200" y="2266" textLength="52" lengthAdjust="spacingAndGlyphs">Core Network/IoT Platform</text>
<path d="M518 2241H556" class="wl" marker-end="url(#a)"/>
<use href="#mon" transform="translate(556.500,2221) scale(1.020,1)"/>
<rect x="563.600" y="2260" width="42" height="7.500" rx="3.700" class="pill"/><text class="p" x="584.600" y="2266" textLength="36" lengthAdjust="spacingAndGlyphs">Monitoring Device</text>
<use href="#br" x="624.500" y="2240"/>
<text class="b" x="654.700" y="2229">PC</text><text class="b" x="654.700" y="2239">Pad</text><text class="b" x="654.700" y="2250">Phone</text>
<path d="M502 2271Q502 2300 519 2320" class="dash" marker-end="url(#a)"/>
<use href="#tower" x="533.400" y="2318"/>
<rect x="518" y="2402" width="30.500" height="8" rx="4" class="pill"/><text class="p" x="533.200" y="2408">Base Station</text>
<path d="M410.600 2383.500H488.500M578 2383.500H655M410.600 2465.500H488.500M578 2465.500H655" stroke="#b9cbd9" stroke-width="1.200"/>
<use href="#lamp" transform="translate(425,2383) scale(-1,1)"/><use href="#lamp" transform="translate(473,2383) scale(-1,1)"/><use href="#lamp" x="593" y="2383"/><use href="#lamp" x="641" y="2383"/>
<use href="#lamp" transform="translate(425,2465) scale(-1,1)"/><use href="#lamp" transform="translate(473,2465) scale(-1,1)"/><use href="#lamp" x="593" y="2465"/><use href="#lamp" x="641" y="2465"/>
<rect x="438.500" y="2310" width="20.500" height="7.500" rx="3.700" class="pill"/><text class="p" x="448.700" y="2316">NB Cell</text>
<rect x="606.500" y="2310" width="21.500" height="7.500" rx="3.700" class="pill"/><text class="p" x="617.200" y="2316">NB Cell</text>
<rect x="438.500" y="2393" width="20.500" height="7.500" rx="3.700" class="pill"/><text class="p" x="448.700" y="2399">NB Cell</text>
<rect x="606.500" y="2393" width="21.500" height="7.500" rx="3.700" class="pill"/><text class="p" x="617.200" y="2399">NB Cell</text>
<path d="M479 2313Q495 2326 518 2330M587.600 2313Q570 2328 549 2330M479 2397Q503 2392 517 2382M587.600 2398Q565 2394 549 2382" class="dash" marker-end="url(#a)"/>
<rect x="409.700" y="2478" width="71.300" height="12" rx="1.500" fill="#0d3a85" stroke="#d5e4f0" stroke-width=".6"/>
<text class="mf" x="416.500" y="2487.500" textLength="58" lengthAdjust="spacingAndGlyphs">Main Features</text>
<text class="l" x="409.700" y="2501.300" textLength="72" lengthAdjust="spacingAndGlyphs">- NB-IoT wireless communication.</text>
<text class="l" x="409.700" y="2510" textLength="148" lengthAdjust="spacingAndGlyphs">- No limit on the number of lamp controllers and transmission distance.</text>
<text class="l" x="409.700" y="2518.300" textLength="105" lengthAdjust="spacingAndGlyphs">- Supports two dimming modes: 0~10V and DALI.</text>
<text class="l" x="409.700" y="2527" textLength="178.400" lengthAdjust="spacingAndGlyphs">- It uses base station provided by local network operator, no need to install gateways.</text>
<text class="l" x="409.700" y="2535.300" textLength="161.400" lengthAdjust="spacingAndGlyphs">- Remote real time control and scheduled lighting by group or individual lamp.</text>
<text class="l" x="409.700" y="2544" textLength="57" lengthAdjust="spacingAndGlyphs">- Alarm on the lamp failure.</text>
<text class="l" x="409.700" y="2552.300" textLength="48" lengthAdjust="spacingAndGlyphs">- Pole tilt, GPS options</text>
</svg>
</body>
</html>
